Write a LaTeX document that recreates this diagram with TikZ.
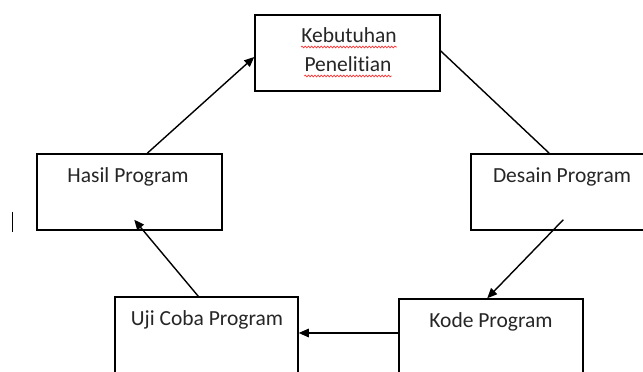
\documentclass[tikz,border=0pt]{standalone}
\usepackage{fontspec}
\setmainfont{Carlito}[Ligatures=NoCommon]
\usetikzlibrary{arrows.meta,decorations.pathmorphing}
\begin{document}
\begin{tikzpicture}[x=1pt,y=1pt,
  box/.style={draw=black,line width=1.5pt,minimum width=185pt,minimum height=76pt,inner sep=0pt},
  lbl/.style={font=\fontsize{21.5}{25}\selectfont,text=black!85,inner sep=0pt,anchor=base},
  conn/.style={line width=1.4pt,draw=black},
  arr/.style={conn,-{Triangle[length=10pt,width=8.5pt]}},
  wavy/.style={draw=red!80!white,line width=0.7pt,decorate,decoration={snake,amplitude=0.9pt,segment length=3.2pt}}
]
\useasboundingbox (0,0) rectangle (643,372);
\clip (0,0) rectangle (643,372);
\fill[white] (0,0) rectangle (643,372);
% boxes
\node[box] (keb) at (347.5,319) {};
\node[box] (hasil) at (129.5,180) {};
\node[box] (desain) at (563.5,180) {};
\node[box,minimum width=183pt] (uji) at (206.5,37) {};
\node[box,minimum width=184pt] (kode) at (491,35) {};
% labels
\node[lbl] (t1) at (349,329) {Kebutuhan};
\node[lbl] (t2) at (348,300) {Penelitian};
\node[lbl] (t3) at (128,189) {Hasil Program};
\node[lbl] (t4) at (562,189) {Desain Program};
\node[lbl] (t5) at (207,46) {Uji Coba Program};
\node[lbl] (t6) at (491,44) {Kode Program};
% spell-check underlines
\draw[wavy] (t1.base west) ++(0,-4) -- (t1.base east |- 0,325);
\draw[wavy] (t2.base west) ++(0,-4) -- (t2.base east |- 0,296);
% cursor mark
\coordinate (cur1) at (12,160);
\coordinate (cur2) at (12,140);
\draw[line width=0.8pt] (cur1) -- (cur2);
% connectors
\draw[arr] ([xshift=111pt]hasil.north west) -- ([yshift=-4pt]keb.west);
\draw[conn] ([yshift=2pt]keb.east) -- ([xshift=79pt]desain.north west);
\draw[arr] ([shift={(93pt,11pt)}]desain.south west) -- ([xshift=89pt]kode.north west);
\draw[arr] ([yshift=4pt]kode.west) -- ([yshift=4pt]kode.west -| uji.east);
\draw[arr] ([xshift=84pt]uji.north west) -- ([shift={(98pt,11pt)}]hasil.south west);
\end{tikzpicture}
\end{document}
